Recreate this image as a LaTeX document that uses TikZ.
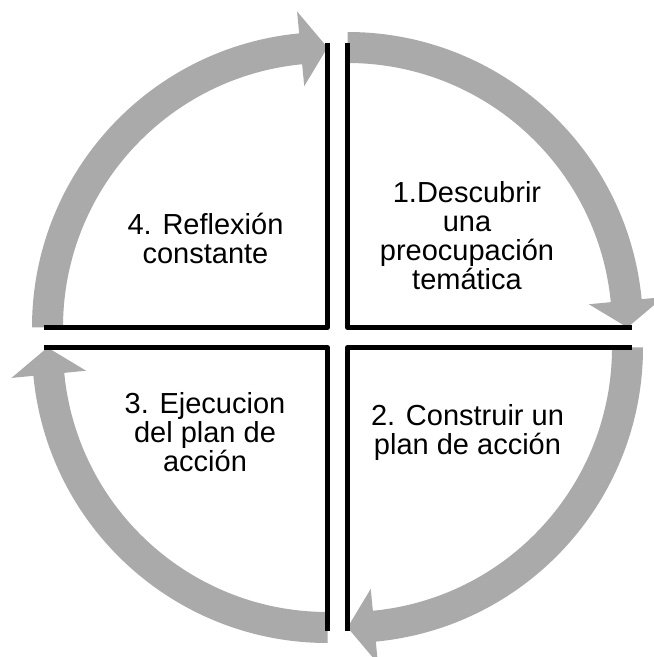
\documentclass[tikz,border=0pt]{standalone}
\usepackage{fontspec}
\setmainfont{Liberation Sans}
\definecolor{arrowgray}{RGB}{170,170,170}
\newcommand{\cyclearrow}[4]{% center, tail angle, base angle, tip angle
  \fill[arrowgray,shift={(#1)}] (#2:295.5) arc[start angle=#2, end angle=#3, radius=295.5]
     -- (#3:317.5) -- (#4:280) -- (#3:242.5) -- (#3:264.5)
     arc[start angle=#3, end angle=#2, radius=264.5] -- cycle;}
\begin{document}
\begin{tikzpicture}[x=1pt,y=1pt,
  quadline/.style={line width=5pt,line join=round,line cap=butt,black},
  label/.style={inner sep=0pt,align=center,font=\fontsize{29}{29}\selectfont}]
\useasboundingbox (0,0) rectangle (654,657);
\clip (0,0) rectangle (654,657);
\fill[white] (0,0) rectangle (654,657);
\coordinate (tr) at (347.5,329.5);
\coordinate (tl) at (327.5,329.5);
\coordinate (bl) at (327.5,309.5);
\coordinate (br) at (347.5,309.5);
% gray arrows
\cyclearrow{tr}{90}{5.5}{0}
\cyclearrow{br}{0}{-84.5}{-90}
\cyclearrow{bl}{-90}{-174.5}{-180}
\cyclearrow{tl}{180}{95.5}{90}
% black edges
\draw[quadline,shift={(tr)}] (0,284) -- (0,0) -- (284,0);
\draw[quadline,shift={(br)}] (284,0) -- (0,0) -- (0,-284);
\draw[quadline,shift={(bl)}] (0,-284) -- (0,0) -- (-284,0);
\draw[quadline,shift={(tl)}] (-284,0) -- (0,0) -- (0,284);
% labels
\node[label] (q1) at (467,421) {1.Descubrir\\una\\preocupación\\temática};
\node[label] (q2) at (467.5,224) {2. Construir un\\plan de acción};
\node[label] (q3) at (205,225) {3. Ejecucion\\del plan de\\acción};
\node[label] (q4) at (205.5,419) {4. Reflexión\\constante};
\end{tikzpicture}
\end{document}
